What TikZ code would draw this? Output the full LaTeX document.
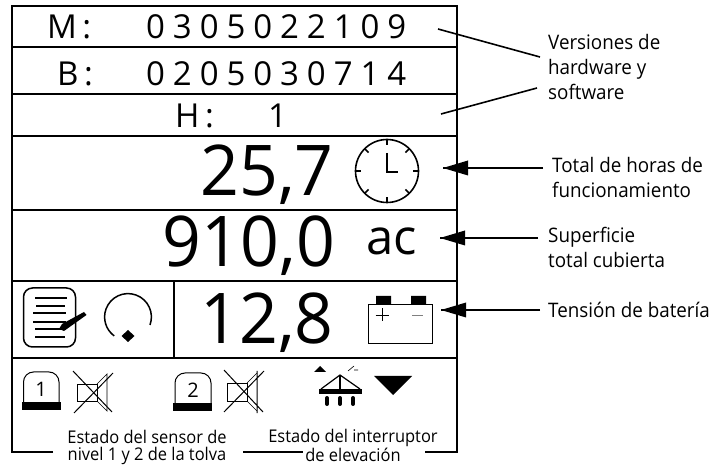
\documentclass[tikz,border=0pt]{standalone}
\usepackage{fontspec}
\setmainfont{Open Sans}
\newfontfamily\wide[LetterSpace=24]{Open Sans}
\newfontfamily\narrow[FakeStretch=0.94]{Open Sans}
\newfontfamily\bigface[FakeStretch=0.97]{Open Sans}
\tikzset{
  frameline/.style={line width=1.8pt},
  leader/.style={line width=1.6pt},
  icon/.style={line width=1pt},
  heavy/.style={line width=1.6pt},
  codeline/.style={inner sep=0pt,anchor=base west,font=\wide\fontsize{33}{33}\selectfont},
  bignum/.style={inner sep=0pt,anchor=base east,font=\bigface\fontsize{70}{70}\selectfont},
  note/.style={inner sep=0pt,align=left,anchor=base west,font=\narrow\fontsize{20}{25}\selectfont},
  notec/.style={inner sep=0pt,align=center,anchor=base,font=\narrow\fontsize{17.5}{17}\selectfont},
  digitmark/.style={inner sep=0pt,anchor=base,font=\fontsize{20}{20}\selectfont},
}
\begin{document}
\begin{tikzpicture}[x=1pt,y=-1pt]
\useasboundingbox (0,0) rectangle (721,465);
% frame
\draw[frameline] (53,452) -- (12,452) -- (12,6) -- (457,6) -- (457,452) -- (425,452);
\draw[frameline] (243,452) -- (303,452);
\foreach \yy in {47,94,136,210,281,358} \draw[frameline] (12,\yy) -- (457,\yy);
\draw[frameline] (174,281) -- (174,358);
% codes
\node[codeline] (mlabel) at (47,39) {M\,:};
\node[codeline] (mcode) at (146,39) {0305022109};
\node[codeline] (blabel) at (57,86) {B\,:};
\node[codeline] (bcode) at (146,86) {0205030714};
\node[codeline] (hlabel) at (175,128) {H\,:};
\node[codeline] (hcode) at (268,128) {1};
% big numbers
\node[bignum] (hours) at (334,196) {25,7};
\node[bignum] (area) at (335,267) {910,0};
\node[bignum] (volt) at (334,344) {12,8};
\node[inner sep=0pt,anchor=base,font=\fontsize{49}{49}\selectfont] (ac) at (392,255) {ac};
% clock
\coordinate (clk) at (387,171);
\draw[heavy] (clk) circle (31.5);
\foreach \a in {0,45,...,315} \draw[heavy] (clk) ++(\a:31.5) -- ++(\a+180:5.5);
\draw[heavy] (387,153) -- (387,172) -- (398,172);
% memo
\draw[line width=1.5pt,rounded corners=9pt] (23.5,288) rectangle (75.5,347);
\foreach \yy/\xa/\xb in {298/35/67,306/36/65,313/33/66,322/33/66,329/35/62,337/35/65}
  \draw[heavy] (\xa,\yy) -- (\xb,\yy);
\fill[line join=round] (59,329) -- (62,324) -- (84,312) -- (86.5,315) -- (64,331) -- cycle;
% gauge
\draw[line width=1.5pt] (150,325) arc[start angle=20,end angle=-234,radius=23.4];
\fill (128,330) -- (134.5,336) -- (128,342) -- (121.5,336) -- cycle;
% battery
\draw[icon] (368,305) rectangle (432,344);
\fill (376,296) rectangle (391,305) (411,296) rectangle (426,305);
\draw[line width=.7pt] (375.5,315) -- (388.5,315) (382,308.5) -- (382,321.5);
\draw[line width=.9pt,gray] (412,315.5) -- (423,315.5);
% sensor 1
\draw[icon,rounded corners=10pt] (23.5,403) -- (23.5,372) -- (59,372) -- (59,403);
\fill (22,402) rectangle (61,410);
\node[digitmark] (s1) at (41,396) {1};
% sensor 2
\draw[icon,rounded corners=10pt] (175,404) -- (175,373) -- (211,373) -- (211,404);
\fill (173,403) rectangle (212,411);
\node[digitmark] (s2) at (193,397) {2};
% speakers
\draw[line width=.7pt] (77,384) rectangle (97,401);
\draw[line width=.7pt] (97,384) -- (107,374) -- (107,411) -- (97,401);
\draw[icon] (73,371) -- (112,412) (74,413) -- (113,373);
\draw[line width=.7pt] (227,383) rectangle (247,401);
\draw[line width=.7pt] (247,383) -- (257,373) (247,401) -- (257,411);
\draw[icon] (257,371) -- (257,413) (224,370) -- (263,412) (224,412) -- (264,371);
% lift icon
\fill (314,372) -- (326,372) -- (320,366) -- cycle;
\draw[line width=.6pt] (348,371) -- (354,366) (354,370) -- (358,370);
\draw[line width=1.2pt] (321,389) -- (340,375) -- (360,389);
\draw[line width=2pt] (340,375) -- (340,390);
\fill (319,389) rectangle (362,394);
\foreach \xx in {327,340,353} \draw[line width=4pt,line cap=round] (\xx,398) -- (\xx,404);
\fill (374,376) -- (412,376) -- (393,395) -- cycle;
% labels
\node[note] (vers) at (548,100) {Versiones de\\hardware y\\software};
\node[note] (tot) at (552,198) {Total de horas de\\funcionamiento};
\node[note] (sup) at (548,268) {Superficie\\total cubierta};
\node[note] (ten) at (548,318) {Tensión de batería};
\node[notec] (est1) at (147,460) {Estado del sensor de\\nivel 1 y 2 de la tolva};
\node[notec] (est2) at (353,461.5) {Estado del interruptor\\de elevación};
% leaders
\coordinate (va) at (438,29);
\coordinate (vae) at (540,57);
\coordinate (vb) at (441,114);
\coordinate (vbe) at (537,88);
\draw[leader] (va) -- (vae);
\draw[leader] (vb) -- (vbe);
\foreach \nm/\xs/\xt/\yy in {h/543/443/168,a/538/440/238,b/540/441/310}{
  \coordinate (s\nm) at (\xs,\yy);
  \coordinate (t\nm) at (\xt,\yy);
  \draw[leader] (s\nm) -- (t\nm);
  \fill (t\nm) -- ++(25,-7.5) -- ++(0,15) -- cycle;
}
\end{tikzpicture}
\end{document}
